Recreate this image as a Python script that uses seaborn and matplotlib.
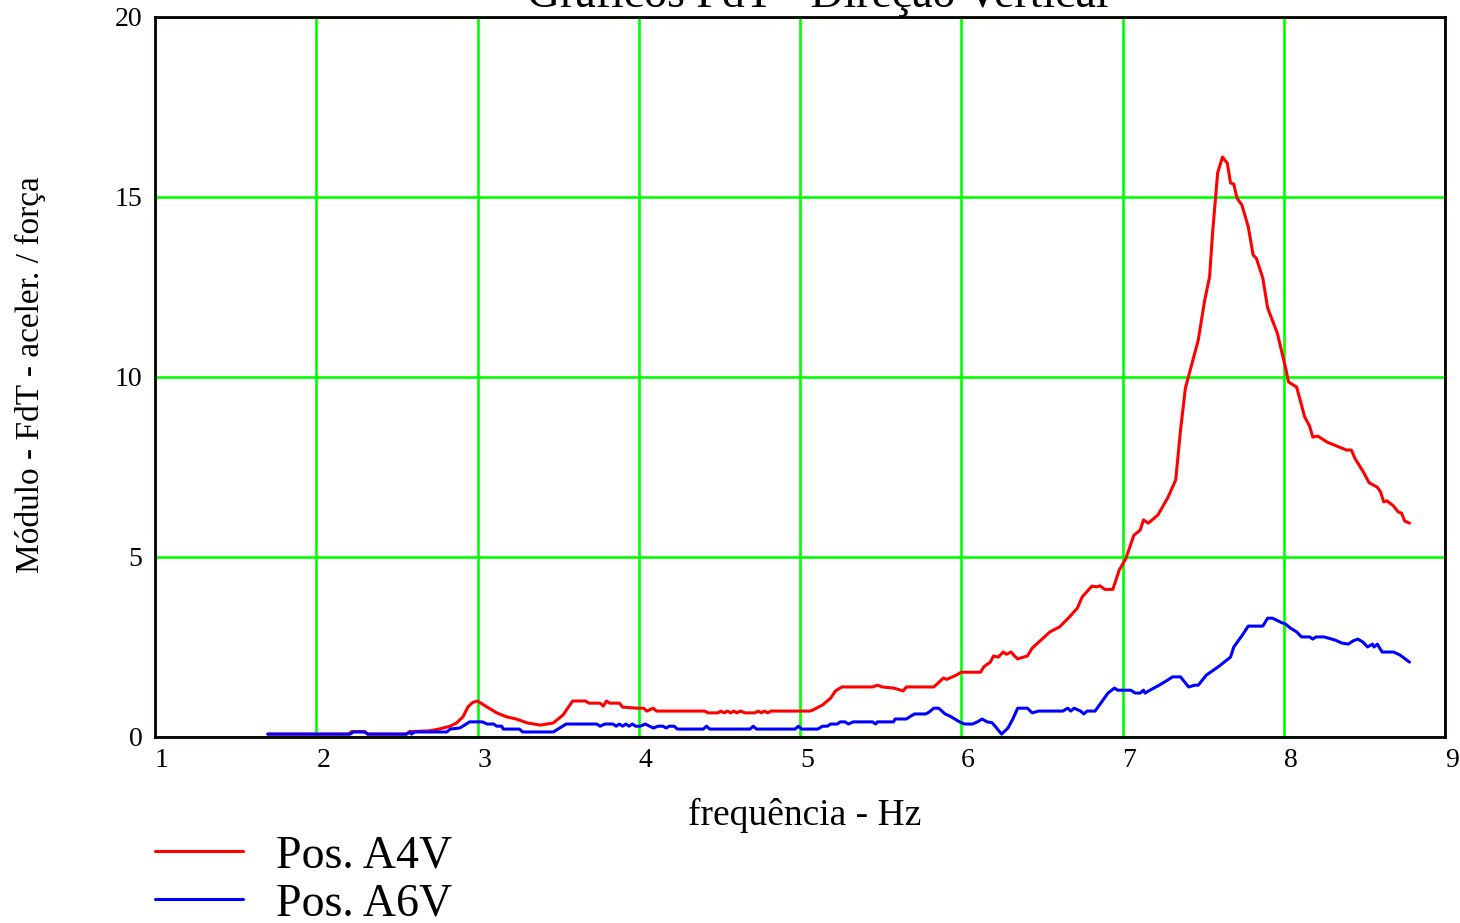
import matplotlib
matplotlib.use("Agg")
import matplotlib.pyplot as plt
import seaborn as sns
import pandas as pd

# ---------------- data ----------------
freq_a4v = [1.70, 2.20, 2.22, 2.30, 2.32, 2.56, 2.58, 2.70, 2.76, 2.83, 2.87, 2.91, 2.94, 2.97,
            3.00, 3.06, 3.12, 3.18, 3.24, 3.31, 3.39, 3.47, 3.53, 3.59, 3.67, 3.69, 3.76, 3.78,
            3.80, 3.82, 3.88, 3.90, 3.99, 4.03, 4.05, 4.09, 4.11, 4.41, 4.43, 4.49, 4.51, 4.53,
            4.55, 4.57, 4.59, 4.61, 4.63, 4.66, 4.72, 4.74, 4.76, 4.78, 4.80, 4.82, 5.06, 5.08,
            5.14, 5.19, 5.22, 5.26, 5.45, 5.48, 5.51, 5.58, 5.64, 5.66, 5.83, 5.89, 5.91, 5.97,
            6.00, 6.12, 6.14, 6.18, 6.20, 6.23, 6.26, 6.28, 6.31, 6.33, 6.35, 6.41, 6.44, 6.55,
            6.61, 6.67, 6.72, 6.75, 6.81, 6.84, 6.86, 6.89, 6.94, 6.98, 7.02, 7.07, 7.11, 7.13,
            7.16, 7.22, 7.28, 7.33, 7.36, 7.39, 7.42, 7.47, 7.51, 7.54, 7.56, 7.59, 7.62, 7.65,
            7.67, 7.69, 7.71, 7.74, 7.78, 7.81, 7.83, 7.87, 7.90, 7.96, 8.01, 8.03, 8.08, 8.13,
            8.16, 8.18, 8.21, 8.27, 8.33, 8.39, 8.42, 8.44, 8.49, 8.53, 8.58, 8.60, 8.62, 8.64,
            8.68, 8.71, 8.73, 8.75, 8.78]
mod_a4v = [0.08, 0.08, 0.15, 0.15, 0.08, 0.08, 0.15, 0.17, 0.22, 0.30, 0.39, 0.56, 0.83, 0.96,
           1.00, 0.83, 0.67, 0.56, 0.50, 0.39, 0.33, 0.39, 0.61, 1.00, 1.00, 0.94, 0.94, 0.86,
           1.00, 0.94, 0.94, 0.83, 0.80, 0.80, 0.72, 0.80, 0.72, 0.72, 0.67, 0.67, 0.72, 0.67,
           0.72, 0.67, 0.72, 0.67, 0.72, 0.67, 0.67, 0.72, 0.67, 0.72, 0.67, 0.72, 0.72, 0.75,
           0.89, 1.08, 1.28, 1.39, 1.39, 1.44, 1.39, 1.36, 1.28, 1.39, 1.39, 1.64, 1.60, 1.72,
           1.80, 1.80, 1.95, 2.08, 2.25, 2.22, 2.36, 2.30, 2.36, 2.25, 2.17, 2.25, 2.47, 2.92,
           3.06, 3.33, 3.58, 3.89, 4.19, 4.17, 4.20, 4.10, 4.10, 4.64, 4.95, 5.60, 5.75, 6.03,
           5.94, 6.17, 6.64, 7.14, 8.53, 9.69, 10.19, 11.03, 12.14, 12.78, 14.08, 15.67, 16.11, 15.94,
           15.39, 15.36, 14.97, 14.78, 14.17, 13.39, 13.30, 12.75, 11.92, 11.22, 10.28, 9.86, 9.72, 8.89,
           8.64, 8.33, 8.36, 8.19, 8.08, 7.97, 7.97, 7.75, 7.39, 7.06, 6.94, 6.81, 6.53, 6.56,
           6.42, 6.25, 6.22, 6.00, 5.94]

freq_a6v = [1.70, 2.21, 2.23, 2.30, 2.32, 2.56, 2.58, 2.59, 2.61, 2.81, 2.83, 2.89, 2.92, 2.95,
            3.03, 3.06, 3.10, 3.12, 3.15, 3.16, 3.26, 3.28, 3.47, 3.51, 3.55, 3.74, 3.76, 3.79,
            3.84, 3.86, 3.88, 3.90, 3.92, 3.94, 3.96, 3.98, 4.01, 4.04, 4.09, 4.12, 4.15, 4.17,
            4.19, 4.22, 4.24, 4.40, 4.42, 4.44, 4.69, 4.71, 4.73, 4.97, 4.99, 5.01, 5.11, 5.14,
            5.17, 5.19, 5.23, 5.25, 5.28, 5.30, 5.33, 5.45, 5.47, 5.48, 5.58, 5.59, 5.66, 5.68,
            5.71, 5.78, 5.80, 5.83, 5.86, 5.90, 5.93, 5.99, 6.02, 6.07, 6.10, 6.13, 6.16, 6.19,
            6.21, 6.25, 6.29, 6.32, 6.35, 6.41, 6.44, 6.48, 6.63, 6.66, 6.68, 6.70, 6.74, 6.76,
            6.78, 6.83, 6.87, 6.91, 6.95, 6.97, 7.05, 7.08, 7.11, 7.13, 7.14, 7.17, 7.22, 7.28,
            7.31, 7.36, 7.39, 7.41, 7.45, 7.47, 7.52, 7.59, 7.60, 7.67, 7.69, 7.74, 7.78, 7.87,
            7.90, 7.93, 7.99, 8.01, 8.04, 8.08, 8.11, 8.16, 8.18, 8.20, 8.25, 8.32, 8.36, 8.40,
            8.43, 8.46, 8.49, 8.52, 8.55, 8.56, 8.58, 8.61, 8.68, 8.72, 8.78]
mod_a6v = [0.08, 0.08, 0.14, 0.14, 0.08, 0.08, 0.14, 0.08, 0.14, 0.14, 0.22, 0.25, 0.33, 0.42,
           0.42, 0.36, 0.36, 0.30, 0.30, 0.22, 0.22, 0.14, 0.14, 0.25, 0.36, 0.36, 0.30, 0.36,
           0.36, 0.30, 0.36, 0.30, 0.36, 0.30, 0.36, 0.30, 0.30, 0.36, 0.25, 0.30, 0.30, 0.25,
           0.30, 0.30, 0.22, 0.22, 0.30, 0.22, 0.22, 0.30, 0.22, 0.22, 0.30, 0.22, 0.22, 0.30,
           0.30, 0.36, 0.36, 0.42, 0.42, 0.36, 0.42, 0.42, 0.36, 0.42, 0.42, 0.50, 0.50, 0.56,
           0.64, 0.64, 0.69, 0.80, 0.80, 0.64, 0.58, 0.42, 0.36, 0.36, 0.42, 0.50, 0.42, 0.40,
           0.30, 0.08, 0.25, 0.50, 0.80, 0.80, 0.67, 0.72, 0.72, 0.80, 0.72, 0.80, 0.72, 0.64,
           0.72, 0.72, 0.97, 1.22, 1.36, 1.30, 1.30, 1.22, 1.22, 1.30, 1.22, 1.30, 1.42, 1.58,
           1.67, 1.67, 1.50, 1.39, 1.44, 1.44, 1.72, 1.94, 1.97, 2.22, 2.50, 2.81, 3.08, 3.08,
           3.30, 3.30, 3.17, 3.14, 3.03, 2.92, 2.78, 2.78, 2.72, 2.78, 2.78, 2.69, 2.61, 2.58,
           2.67, 2.72, 2.64, 2.50, 2.58, 2.50, 2.58, 2.36, 2.36, 2.28, 2.08]

series_names = ["Pos. A4V", "Pos. A6V"]
x_ticks = [1, 2, 3, 4, 5, 6, 7, 8, 9]
y_ticks = [0, 5, 10, 15, 20]
title_text = "Gráficos FdT - Direção Vertical"
x_label = "frequência - Hz"
y_label = "Módulo - FdT - aceler. / força"

# ---------------- figure ----------------
sns.set_theme(style="white")
plt.rcParams["font.family"] = ["Liberation Serif", "DejaVu Serif"]
plt.rcParams["text.color"] = "black"
plt.rcParams["axes.labelcolor"] = "black"
plt.rcParams["xtick.color"] = "black"
plt.rcParams["ytick.color"] = "black"

df = pd.concat([
    pd.DataFrame({"freq": freq_a4v, "mod": mod_a4v, "serie": series_names[0]}),
    pd.DataFrame({"freq": freq_a6v, "mod": mod_a6v, "serie": series_names[1]}),
], ignore_index=True)

fig = plt.figure(figsize=(14.6, 9.23), dpi=100)
ax = fig.add_axes([155 / 1460, 1 - 737 / 923, 1290 / 1460, 720 / 923])

sns.lineplot(data=df, x="freq", y="mod", hue="serie", palette=["#ff0000", "#0000ff"],
             estimator=None, sort=False, linewidth=2.2, ax=ax, legend=True)

ax.set_xlim(1, 9)
ax.set_ylim(0, 20)
ax.set_xticks(x_ticks)
ax.set_yticks(y_ticks)
ax.set_xticklabels([str(t) for t in x_ticks], ha="left")
ax.set_yticklabels([str(t) for t in y_ticks])
ax.tick_params(axis="both", length=0, labelsize=20, colors="black")
ax.tick_params(axis="x", pad=8)
ax.tick_params(axis="y", pad=9)

ax.grid(True, color="#00ff00", linewidth=1.9)
for s in ax.spines.values():
    s.set_color("black")
    s.set_linewidth(2.0)
    s.set_visible(True)

ax.set_xlabel(x_label, fontsize=27, va="center")
ax.xaxis.set_label_coords((805 - 155) / 1290, (737 - 815) / 720)
ax.set_ylabel(y_label, fontsize=24, va="center")
ax.yaxis.set_label_coords((30 - 155) / 1290, (737 - 375) / 720)

fig.text(818 / 1460, 1 - 7 / 923, title_text, ha="center", va="baseline", fontsize=33)

handles, labels = ax.get_legend_handles_labels()
for h in handles:
    h.set_linewidth(2.2)
ax.legend(handles, labels, loc="upper left", bbox_to_anchor=(155 / 1460, 1 - 835 / 923),
          bbox_transform=fig.transFigure, frameon=False, fontsize=33,
          handlelength=1.92, handletextpad=0.72, labelspacing=0.12, borderaxespad=0,
          borderpad=0)

fig.savefig("out.png", dpi=100)
